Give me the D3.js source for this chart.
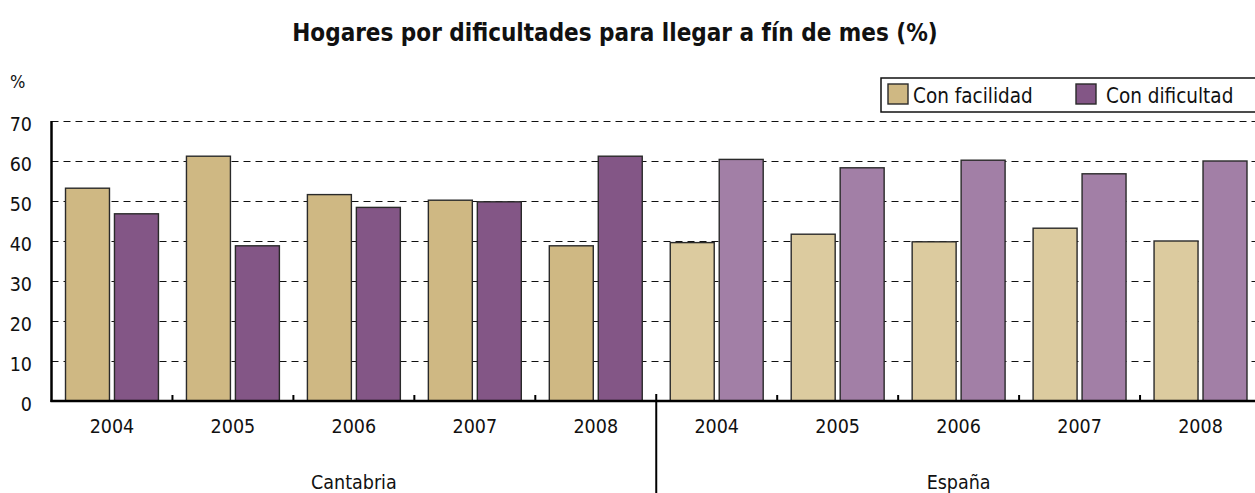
<!DOCTYPE html>
<html><head><meta charset="utf-8">
<script src="https://cdn.jsdelivr.net/npm/d3@7"></script>
<style>
html,body{margin:0;padding:0;background:#fff;}
svg{display:block;font-family:"DejaVu Sans Condensed","DejaVu Sans",sans-serif;}
</style></head><body>
<svg id="c" width="1255" height="493"></svg>
<script>
const title = "Hogares por dificultades para llegar a fín de mes (%)";
const regions = ["Cantabria", "España"];
const years = ["2004", "2005", "2006", "2007", "2008"];
const seriesNames = ["Con facilidad", "Con dificultad"];
const facilidadCantabria = [53.2, 61.2, 51.6, 50.2, 38.8];
const dificultadCantabria = [46.8, 38.8, 48.4, 49.8, 61.2];
const facilidadEspana = [39.6, 41.7, 39.8, 43.2, 40.0];
const dificultadEspana = [60.4, 58.3, 60.2, 56.8, 60.0];
const yTicks = [0, 10, 20, 30, 40, 50, 60, 70];

const colors = {
  "Cantabria": ["#CFB883", "#835686"],
  "España": ["#DCCB9F", "#A27FA6"]
};

const rows = [];
regions.forEach((r, ri) => {
  const f = ri === 0 ? facilidadCantabria : facilidadEspana;
  const d = ri === 0 ? dificultadCantabria : dificultadEspana;
  years.forEach((yr, yi) => rows.push({region: r, year: yr, key: r + "|" + yr, values: [f[yi], d[yi]]}));
});

const svg = d3.select("#c");
const pLeft = 51.5, pRight = 1261, pTop = 121, pBottom = 401;

const x0 = d3.scaleBand().domain(rows.map(d => d.key)).range([pLeft, pRight]).padding(0);
const x1 = d3.scaleBand().domain([0, 1]).range([0, x0.bandwidth()]).paddingInner(0.102).paddingOuter(0.286);
const y = d3.scaleLinear().domain([0, 70]).range([pBottom, pTop]);
const xr = d3.scaleBand().domain(regions).range([pLeft, pRight]).padding(0);

// title
svg.append("text").attr("x", 615).attr("y", 41).attr("text-anchor", "middle")
  .attr("font-size", 24).attr("font-weight", "bold").attr("fill", "#111").text(title);
svg.append("text").attr("x", 10).attr("y", 88).attr("font-size", 18).attr("fill", "#111").text("%");

// gridlines
svg.append("g").selectAll("line").data(yTicks.filter(t => t > 0)).join("line")
  .attr("x1", pLeft).attr("x2", 1255).attr("y1", d => Math.round(y(d)) + 0.5).attr("y2", d => Math.round(y(d)) + 0.5)
  .attr("stroke", "#111").attr("stroke-width", 1).attr("stroke-dasharray", "7,5");

// y labels
svg.append("g").selectAll("text").data(yTicks).join("text")
  .attr("x", 32).attr("y", d => y(d) + 10).attr("text-anchor", "end")
  .attr("font-size", 19.5).attr("fill", "#111").text(d => d);

// bars
const g = svg.append("g").selectAll("g").data(rows).join("g")
  .attr("transform", d => `translate(${x0(d.key)},0)`);
g.selectAll("rect").data(d => d.values.map((v, i) => ({v, i, region: d.region}))).join("rect")
  .attr("x", d => x1(d.i)).attr("width", x1.bandwidth())
  .attr("y", d => y(d.v)).attr("height", d => y(0) - y(d.v))
  .attr("fill", d => colors[d.region][d.i]).attr("stroke", "#2a2a2a").attr("stroke-width", 1.4);

// axes
svg.append("line").attr("x1", pLeft).attr("x2", pLeft).attr("y1", pTop).attr("y2", pBottom + 1)
  .attr("stroke", "#000").attr("stroke-width", 2.5);
svg.append("line").attr("x1", pLeft - 1).attr("x2", 1255).attr("y1", pBottom).attr("y2", pBottom)
  .attr("stroke", "#000").attr("stroke-width", 2.5);

// group ticks
const boundaries = rows.slice(1).map(d => d.key);
svg.append("g").selectAll("line").data(boundaries).join("line")
  .attr("x1", d => x0(d)).attr("x2", d => x0(d))
  .attr("y1", d => d.endsWith("2004") ? 394 : 395).attr("y2", d => d.endsWith("2004") ? 493 : pBottom)
  .attr("stroke", "#000").attr("stroke-width", 2);

// year labels
svg.append("g").selectAll("text").data(rows).join("text")
  .attr("x", d => x0(d.key) + x0.bandwidth() / 2).attr("y", 433).attr("text-anchor", "middle")
  .attr("font-size", 19.5).attr("fill", "#111").text(d => d.year);

// region labels
svg.append("g").selectAll("text").data(regions).join("text")
  .attr("x", d => xr(d) + xr.bandwidth() / 2).attr("y", 489).attr("text-anchor", "middle")
  .attr("font-size", 19.5).attr("fill", "#111").text(d => d);

// legend
const lg = svg.append("g");
lg.append("rect").attr("x", 881).attr("y", 78).attr("width", 400).attr("height", 34)
  .attr("fill", "#fff").attr("stroke", "#111").attr("stroke-width", 1.5);
const lx = [888, 1076], tx = [913, 1106];
seriesNames.forEach((s, i) => {
  lg.append("rect").attr("x", lx[i]).attr("y", 84).attr("width", 20).attr("height", 20)
    .attr("fill", colors["Cantabria"][i]).attr("stroke", "#2a2a2a").attr("stroke-width", 1.4);
  lg.append("text").attr("x", tx[i]).attr("y", 103).attr("font-size", 20.5).attr("fill", "#111").text(s);
});
</script>
</body></html>
